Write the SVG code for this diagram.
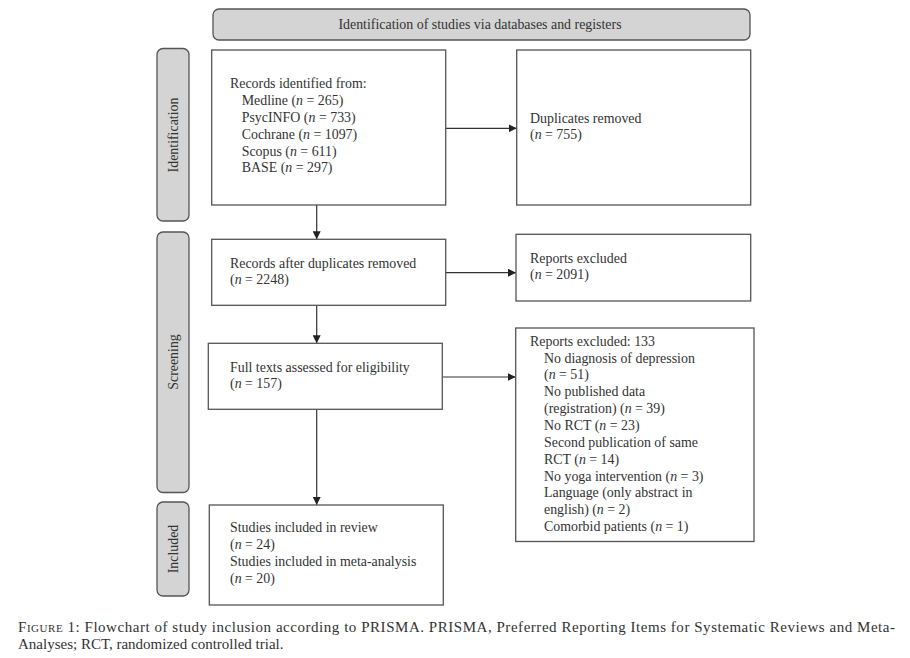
<svg xmlns="http://www.w3.org/2000/svg" width="910" height="658" viewBox="0 0 910 658">
<defs>
<style>
.box{fill:#fff;stroke:#555;stroke-width:1.3}
.lab{fill:#d4d4d4;stroke:#555;stroke-width:1.3}
.t{font-family:"Liberation Serif","Times New Roman",serif;font-size:13.9px;fill:#333}
.c{font-family:"Liberation Serif","Times New Roman",serif;font-size:15px;fill:#333}
.ln{stroke:#333;stroke-width:1.2;fill:none}
</style>
<marker id="ah" viewBox="0 0 10 10" refX="10" refY="5" markerWidth="8" markerHeight="8" markerUnits="userSpaceOnUse" orient="auto">
<path d="M0,0 L10,5 L0,10 z" fill="#222"/>
</marker>
</defs>
<rect width="910" height="658" fill="#fff"/>

<g id="header">
<rect class="lab" x="213" y="9" width="537" height="31" rx="6"/>
<text class="t" x="480" y="29" text-anchor="middle">Identification of studies via databases and registers</text>
</g>

<g id="lab-identification">
<rect class="lab" x="157" y="48.5" width="32" height="172.5" rx="6"/>
<text class="t" transform="translate(177.5,135) rotate(-90)" text-anchor="middle">Identification</text>
</g>
<g id="lab-screening">
<rect class="lab" x="157" y="232" width="32" height="260.5" rx="6"/>
<text class="t" transform="translate(177.5,362) rotate(-90)" text-anchor="middle">Screening</text>
</g>
<g id="lab-included">
<rect class="lab" x="157" y="502" width="32" height="94" rx="6"/>
<text class="t" transform="translate(177.5,549) rotate(-90)" text-anchor="middle">Included</text>
</g>

<g id="connectors">
<line class="ln" x1="445.7" y1="128.3" x2="516.7" y2="128.3" marker-end="url(#ah)"/>
<line class="ln" x1="316.7" y1="205" x2="316.7" y2="239.3" marker-end="url(#ah)"/>
<line class="ln" x1="445.7" y1="272.7" x2="516" y2="272.7" marker-end="url(#ah)"/>
<line class="ln" x1="316.7" y1="305.3" x2="316.7" y2="343.3" marker-end="url(#ah)"/>
<line class="ln" x1="442.3" y1="377" x2="515.7" y2="377" marker-end="url(#ah)"/>
<line class="ln" x1="316.7" y1="409.3" x2="316.7" y2="505" marker-end="url(#ah)"/>
</g>

<g id="records-identified">
<rect class="box" x="211.7" y="50" width="234" height="155"/>
<text class="t" x="230" y="88.3">Records identified from:</text>
<text class="t" x="241.7" y="105">Medline (<tspan font-style="italic">n</tspan> = 265)</text>
<text class="t" x="241.7" y="121.7">PsycINFO (<tspan font-style="italic">n</tspan> = 733)</text>
<text class="t" x="241.7" y="138.8">Cochrane (<tspan font-style="italic">n</tspan> = 1097)</text>
<text class="t" x="241.7" y="155.7">Scopus (<tspan font-style="italic">n</tspan> = 611)</text>
<text class="t" x="241.7" y="172.3">BASE (<tspan font-style="italic">n</tspan> = 297)</text>
</g>

<g id="duplicates-removed">
<rect class="box" x="516.7" y="50" width="234" height="155"/>
<text class="t" x="530" y="122.7">Duplicates removed</text>
<text class="t" x="530" y="139.3">(<tspan font-style="italic">n</tspan> = 755)</text>
</g>

<g id="records-after">
<rect class="box" x="211.7" y="239.3" width="234" height="66"/>
<text class="t" x="230" y="267.7">Records after duplicates removed</text>
<text class="t" x="230" y="284.3">(<tspan font-style="italic">n</tspan> = 2248)</text>
</g>

<g id="reports-excluded-1">
<rect class="box" x="516" y="234.3" width="234.7" height="66.7"/>
<text class="t" x="530" y="262.7">Reports excluded</text>
<text class="t" x="530" y="279.3">(<tspan font-style="italic">n</tspan> = 2091)</text>
</g>

<g id="full-texts">
<rect class="box" x="208.3" y="343.3" width="234" height="66"/>
<text class="t" x="230" y="371.7">Full texts assessed for eligibility</text>
<text class="t" x="230" y="388.3">(<tspan font-style="italic">n</tspan> = 157)</text>
</g>

<g id="reports-excluded-2">
<rect class="box" x="515.7" y="328" width="238.3" height="213.5"/>
<text class="t" x="530" y="345.7">Reports excluded: 133</text>
<text class="t" x="544" y="362.5">No diagnosis of depression</text>
<text class="t" x="544" y="379.4">(<tspan font-style="italic">n</tspan> = 51)</text>
<text class="t" x="544" y="396.2">No published data</text>
<text class="t" x="544" y="413.1">(registration) (<tspan font-style="italic">n</tspan> = 39)</text>
<text class="t" x="544" y="429.9">No RCT (<tspan font-style="italic">n</tspan> = 23)</text>
<text class="t" x="544" y="446.8">Second publication of same</text>
<text class="t" x="544" y="463.6">RCT (<tspan font-style="italic">n</tspan> = 14)</text>
<text class="t" x="544" y="480.5">No yoga intervention (<tspan font-style="italic">n</tspan> = 3)</text>
<text class="t" x="544" y="497.3">Language (only abstract in</text>
<text class="t" x="544" y="514.2">english) (<tspan font-style="italic">n</tspan> = 2)</text>
<text class="t" x="544" y="531">Comorbid patients (<tspan font-style="italic">n</tspan> = 1)</text>
</g>

<g id="studies-included">
<rect class="box" x="209.3" y="505" width="234" height="100"/>
<text class="t" x="230" y="531.7">Studies included in review</text>
<text class="t" x="230" y="549">(<tspan font-style="italic">n</tspan> = 24)</text>
<text class="t" x="230" y="565.7">Studies included in meta-analysis</text>
<text class="t" x="230" y="583">(<tspan font-style="italic">n</tspan> = 20)</text>
</g>

<g id="caption">
<text class="c" x="18" y="632" textLength="877" lengthAdjust="spacing">F<tspan font-size="11px">IGURE</tspan> 1: Flowchart of study inclusion according to PRISMA. PRISMA, Preferred Reporting Items for Systematic Reviews and Meta-</text>
<text class="c" x="18" y="649">Analyses; RCT, randomized controlled trial.</text>
</g>
</svg>
